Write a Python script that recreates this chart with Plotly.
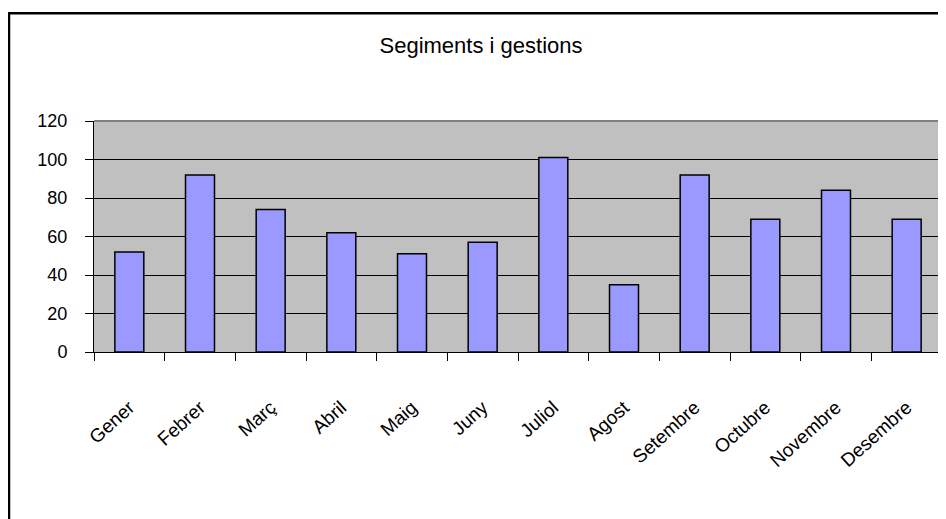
import plotly.graph_objects as go

months = ["Gener", "Febrer", "Març", "Abril", "Maig", "Juny",
          "Juliol", "Agost", "Setembre", "Octubre", "Novembre", "Desembre"]
values = [52, 92, 74, 62, 51, 57, 101, 35, 92, 69, 84, 69]
y_ticks = [0, 20, 40, 60, 80, 100, 120]
title_text = "Segiments i gestions"

W, H = 946, 519
OFF = 8  # page body margin offset
# target screen geometry of plot area
sx0, sx1, sy0, sy1 = 94, 942, 121, 352.5
L = sx0 - OFF
T = sy0 - OFF
R = W - (sx1 - OFF)
B = H - (sy1 - OFF)
pw = W - L - R
ph = H - T - B


def px_to_paper_x(sx):
    return (sx - OFF - L) / pw


def px_to_paper_y(sy):
    return (H - B - (sy - OFF)) / ph


font = dict(family="Liberation Sans, Arial, sans-serif", color="black")

fig = go.Figure()
fig.add_trace(go.Bar(
    x=months, y=values,
    marker=dict(color="#9999FF", line=dict(color="black", width=1.5)),
    hoverinfo="x+y",
))

fig.update_layout(
    width=W, height=H, autosize=False,
    margin=dict(l=L, r=R, t=T, b=B, pad=0),
    paper_bgcolor="white",
    plot_bgcolor="#C0C0C0",
    bargap=0.59,
    showlegend=False,
    font=dict(size=18, **font),
    title=dict(text=title_text, x=(481 - OFF) / W, xref="container", xanchor="center",
               y=1 - (45 - OFF) / H, yref="container", yanchor="middle",
               font=dict(size=22, **font)),
    xaxis=dict(
        type="category", tickson="boundaries", ticks="outside", ticklen=8,
        tickcolor="black", tickwidth=1, showline=True, linecolor="black",
        linewidth=1, showgrid=False, tickangle=-42, ticklabelstandoff=36,
        tickfont=dict(size=19, **font), fixedrange=True,
    ),
    yaxis=dict(
        range=[0, 120], tickvals=y_ticks, ticks="outside", ticklen=8,
        tickcolor="black", tickwidth=1, showline=True, linecolor="black",
        linewidth=1, showgrid=True, gridcolor="black", gridwidth=1,
        zeroline=False, ticklabelstandoff=14,
        tickfont=dict(size=18, **font), fixedrange=True,
    ),
    shapes=[
        dict(type="line", xref="paper", yref="paper", x0=0, x1=1, y0=1, y1=1,
             line=dict(color="#808080", width=2), layer="above"),
        dict(type="line", xref="paper", yref="paper", x0=1, x1=1, y0=0, y1=1,
             line=dict(color="#808080", width=2), layer="above"),
        dict(type="rect", xref="paper", yref="paper",
             x0=px_to_paper_x(9), x1=px_to_paper_x(W + 20),
             y0=px_to_paper_y(H + 20), y1=px_to_paper_y(13),
             line=dict(color="black", width=2.5), fillcolor="rgba(0,0,0,0)",
             layer="above"),
    ],
)

fig.write_html("out.html")
